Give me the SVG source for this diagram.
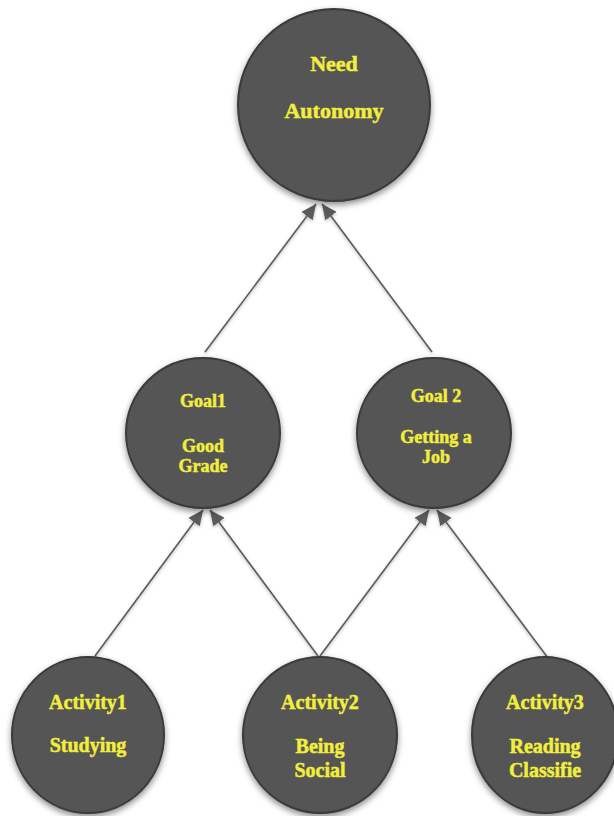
<svg xmlns="http://www.w3.org/2000/svg" width="614" height="816" viewBox="0 0 614 816">
  <style>
    .node { fill: #545454; stroke: #3a3a3a; stroke-width: 2; filter: url(#shadow); }
    .label { fill: #f2ee3c; stroke: #f2ee3c; stroke-width: 0.5; font-family: "Liberation Serif", "DejaVu Serif", serif; font-weight: bold; text-anchor: middle; }
    .big { font-size: 22px; }
    .mid { font-size: 18px; }
    .sm { font-size: 20px; }
    .edge { stroke: #5a5a5a; stroke-width: 1.6; fill: none; marker-end: url(#arrow); filter: url(#lineshadow); }
  </style>
  <defs>
    <filter id="shadow" x="-20%" y="-20%" width="140%" height="150%">
      <feDropShadow dx="0" dy="3" stdDeviation="3" flood-color="#000" flood-opacity="0.45"/>
    </filter>
    <filter id="lineshadow" x="-20%" y="-20%" width="140%" height="140%">
      <feDropShadow dx="0" dy="1.5" stdDeviation="1.5" flood-color="#000" flood-opacity="0.3"/>
    </filter>
    <marker id="arrow" markerUnits="userSpaceOnUse" markerWidth="16" markerHeight="14" refX="15" refY="7" orient="auto">
      <path d="M0,0 L15,7 L0,14 Z" fill="#5a5a5a"/>
    </marker>
  </defs>

  <rect width="614" height="816" fill="#ffffff"/>

  <!-- connectors -->
  <g id="connectors">
    <line class="edge" x1="205" y1="352" x2="316" y2="204"/>
    <line class="edge" x1="432" y1="352" x2="322" y2="204"/>
    <line class="edge" x1="95" y1="656" x2="203" y2="510"/>
    <line class="edge" x1="318" y1="656" x2="210" y2="510"/>
    <line class="edge" x1="320" y1="656" x2="429" y2="510"/>
    <line class="edge" x1="548" y1="658" x2="437" y2="510"/>
  </g>

  <!-- need -->
  <g id="need">
    <ellipse class="node" cx="334" cy="105" rx="96" ry="96"/>
    <text class="label big" x="334" y="71">Need</text>
    <text class="label big" x="334" y="118">Autonomy</text>
  </g>

  <!-- goals -->
  <g id="goal1">
    <ellipse class="node" cx="203" cy="433" rx="77" ry="75"/>
    <text class="label mid" x="203" y="407">Goal1</text>
    <text class="label mid" x="203" y="452">Good</text>
    <text class="label mid" x="203" y="472">Grade</text>
  </g>
  <g id="goal2">
    <ellipse class="node" cx="434" cy="433" rx="77" ry="75"/>
    <text class="label mid" x="436" y="402">Goal 2</text>
    <text class="label mid" x="436" y="443">Getting a</text>
    <text class="label mid" x="436" y="463">Job</text>
  </g>

  <!-- activities -->
  <g id="activity1">
    <ellipse class="node" cx="88" cy="735" rx="76" ry="78"/>
    <text class="label sm" x="88" y="709">Activity1</text>
    <text class="label sm" x="88" y="752">Studying</text>
  </g>
  <g id="activity2">
    <ellipse class="node" cx="320" cy="735" rx="77" ry="78"/>
    <text class="label sm" x="320" y="709">Activity2</text>
    <text class="label sm" x="320" y="753">Being</text>
    <text class="label sm" x="320" y="777">Social</text>
  </g>
  <g id="activity3">
    <ellipse class="node" cx="545" cy="735" rx="73" ry="78"/>
    <text class="label sm" x="545" y="709">Activity3</text>
    <text class="label sm" x="545" y="753">Reading</text>
    <text class="label sm" x="545" y="777">Classifie</text>
  </g>
</svg>
